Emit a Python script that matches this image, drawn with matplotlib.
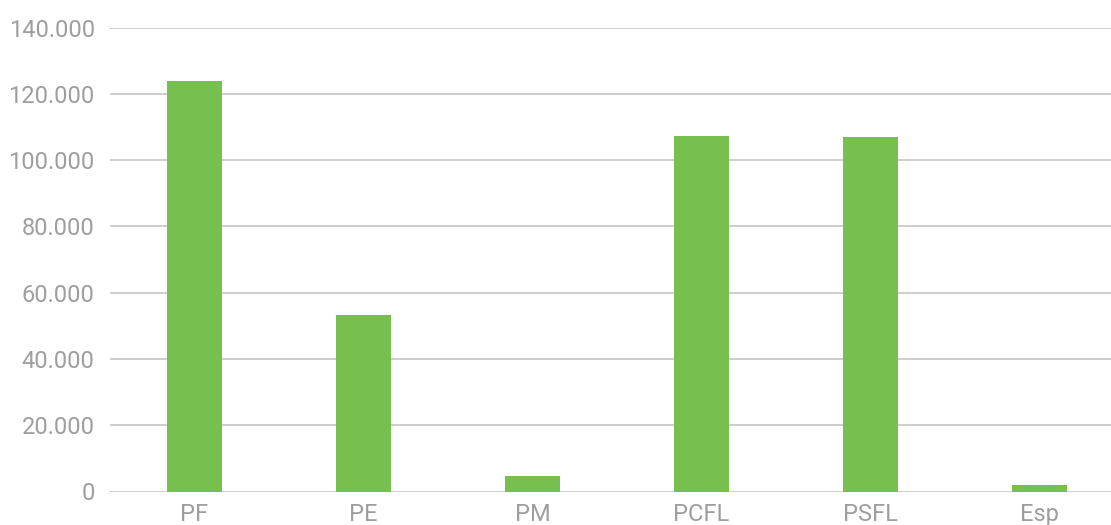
import matplotlib.pyplot as plt
from matplotlib.ticker import FuncFormatter

categories = ["PF", "PE", "PM", "PCFL", "PSFL", "Esp"]
values = [124000, 53300, 4700, 107300, 107000, 2000]
y_ticks = [0, 20000, 40000, 60000, 80000, 100000, 120000, 140000]

bar_color = "#77bf4f"
grid_color = "#c6c6c6"
text_color = "#9e9e9e"

plt.rcParams["font.family"] = ["Roboto", "DejaVu Sans"]

fig = plt.figure(figsize=(11.11, 5.25), dpi=100)
ax = fig.add_axes([110 / 1111, 33.5 / 525, 1001 / 1111, 464 / 525])

x = list(range(len(categories)))
ax.bar(x, values, width=0.32, color=bar_color, zorder=3)

ax.set_xlim(-0.5, (1111 - 110) / 169 - 0.5)
ax.set_ylim(0, 140000)
ax.set_yticks(y_ticks)
ax.yaxis.set_major_formatter(
    FuncFormatter(lambda v, _: f"{int(v):,}".replace(",", "."))
)
ax.set_xticks(x)
ax.set_xticklabels(categories)

ax.grid(axis="y", color=grid_color, linewidth=1.2, zorder=0)
for side in ["top", "right", "left", "bottom"]:
    ax.spines[side].set_visible(False)
ax.tick_params(axis="both", length=0, labelsize=17, colors=text_color)
ax.tick_params(axis="y", pad=11)
ax.tick_params(axis="x", pad=8)

fig.savefig("out.png", dpi=100)
